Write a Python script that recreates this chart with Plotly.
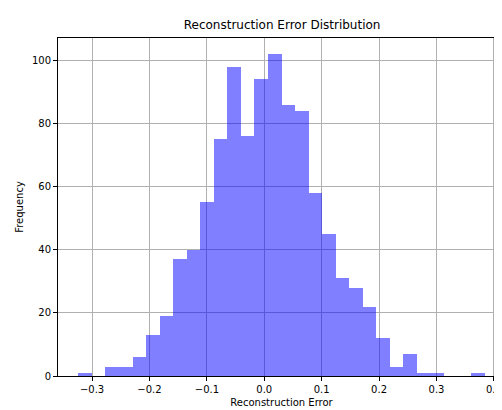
import plotly.graph_objects as go

bin_start = -0.324
bin_end = 0.384
counts = [1, 0, 3, 3, 6, 13, 19, 37, 40, 55, 75, 98, 76, 94, 102,
          86, 84, 58, 45, 31, 28, 22, 12, 3, 7, 1, 1, 0, 0, 1]
x_ticks = [-0.3, -0.2, -0.1, 0.0, 0.1, 0.2, 0.3, 0.4]
y_ticks = [0, 20, 40, 60, 80, 100]

width = (bin_end - bin_start) / len(counts)
centers = [bin_start + width * (i + 0.5) for i in range(len(counts))]

fig = go.Figure(go.Bar(
    x=centers, y=counts, width=[width] * len(counts),
    marker=dict(color='rgba(0,0,255,0.5)', line=dict(width=0)),
))

pad = (bin_end - bin_start) * 0.05
axis = dict(showline=True, linecolor='black', linewidth=1, mirror=True,
            ticks='outside', ticklen=4, tickcolor='black', automargin=False,
            showgrid=True, gridcolor='#b0b0b0', gridwidth=0.8, zeroline=False,
            tickfont=dict(size=10, color='black'))

fig.update_layout(
    width=502, height=410,
    paper_bgcolor='white', plot_bgcolor='white',
    font=dict(family='DejaVu Sans', color='black'),
    title=dict(text='Reconstruction Error Distribution', x=0.546, xanchor='center',
               y=0.97, font=dict(size=12)),
    margin=dict(l=50, r=5, t=30, b=42),
    xaxis=dict(axis, range=[bin_start - pad, bin_end + pad], tickvals=x_ticks,
               ticktext=[f'{v:.1f}'.replace('-', '−') for v in x_ticks],
               title=dict(text='Reconstruction Error', font=dict(size=10), standoff=4)),
    yaxis=dict(axis, range=[0, max(counts) * 1.05], tickvals=y_ticks,
               title=dict(text='Frequency', font=dict(size=10), standoff=6)),
    bargap=0, showlegend=False,
)

fig.write_html("out.html")
